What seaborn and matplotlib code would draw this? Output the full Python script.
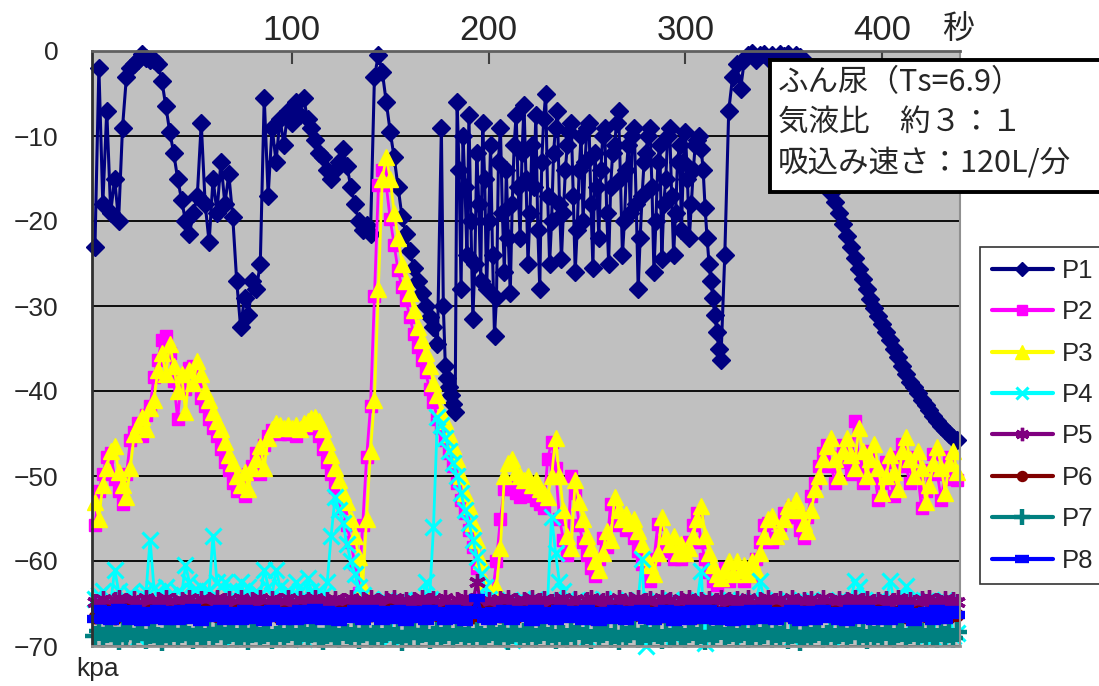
import numpy as np
import seaborn as sns
import matplotlib.pyplot as plt
import matplotlib.patches as mpatches

# time axis (s): one sample every 2 s; P1 is read every 1 s in its busy middle part
t = np.arange(0, 440, 2)
t_p1 = np.concatenate([np.arange(0, 176, 2), np.arange(176, 318, 1), np.arange(318, 440, 2)])

p1 = [-23, -2, -18, -7, -19, -15, -20, -9, -3, -2,
      -1.5, -1, -0.3, -0.8, -1, -1, -1.5, -3.5, -6.5, -9.5,
      -12, -15, -17.5, -20, -21.5, -19, -17, -8.5, -18, -22.5,
      -15, -19, -13, -18, -14.5, -19.5, -27, -32.5, -29, -31,
      -27, -28, -25, -5.5, -17, -9, -13, -8, -11, -7,
      -8.5, -6, -7.5, -5.5, -8, -9, -10.5, -12, -12.5, -14,
      -15, -14, -13, -11.5, -13.5, -16, -18, -20, -21, -20.5,
      -21.5, -3, -0.5, -2.5, -6, -9.5, -12.5, -16, -19.5, -21.5,
      -23.5, -25.5, -27, -28.5, -30, -31.3, -32.5, -34.5,
      # 176 .. 317 s, every second
      -9, -30, -37, -38.5, -39.5, -40.5, -41.5, -42.5, -6, -14,
      -28, -10, -16, -24, -7.5, -20, -31.5, -25, -12, -18,
      -27, -8.5, -15, -28, -20, -11, -24, -33.5, -29, -13,
      -9, -19, -26, -14, -22, -28.5, -18, -11, -7.5, -16,
      -22, -12, -6.3, -15, -25, -19, -11, -16, -7.5, -21,
      -28, -13, -8, -5, -17, -25, -20, -12, -9, -7,
      -18, -24.5, -19, -14, -11, -9.5, -8.5, -17, -26, -21,
      -14, -10, -20, -13, -9, -8.5, -18, -25.5, -12, -16,
      -22, -14, -10, -9, -19, -25, -16, -12, -11, -8.5,
      -7, -15, -24, -20, -14, -11, -19, -10, -9, -18,
      -28, -22, -17, -13, -12, -10, -9, -16, -26, -20,
      -13, -11, -24.5, -18, -15, -10, -9, -17, -24, -19,
      -13, -11, -21, -13, -9.5, -15, -22, -18, -14, -11,
      -10.5, -10, -11.5, -14, -18.5, -22, -25, -27, -29, -31,
      -33, -35,
      # 318 .. 438 s, every 2 s
      -36.4,
      -24, -7, -3, -1.5, -4.5, -1, -0.5, -0.2, -1, -0.5,
      -0.3, -0.8, -0.5, -1, -0.4, -0.6, -0.3, -0.8, -0.5, -0.7,
      -1, -1.5, -4, -7, -10, -12.5, -15, -16.7, -17.8, -19,
      -20.3, -21.8, -23, -24.3, -25.6, -26.8, -28, -29.2, -30.2, -31.2,
      -32.1, -33, -34, -35, -36, -37, -38, -38.9, -39.5, -40.2,
      -41, -41.7, -42.2, -42.9, -43.5, -44.1, -44.6, -45.1, -45.5, -45.8]

p2 = [-55.8, -51.8, -49.8, -47.8, -47.3, -50.3, -51.8, -53.3, -49.8, -45.8,
      -44.8, -43.8, -45.3, -42.8, -41.8, -38.3, -36.3, -34, -33.5, -35.5,
      -38.8, -43.3, -38.3, -39.8, -37.3, -37, -38.8, -40.8, -41.8, -43.3,
      -44.3, -45.3, -46.8, -48.3, -49.3, -50.8, -51.8, -50.3, -52.3, -49.8,
      -48.8, -47.3, -49.8, -46.3, -45.3, -44.6, -44.8, -45.1, -44.8, -45.1,
      -44.8, -45.3, -44.6, -44.3, -44, -43.8, -44.3, -45.3, -46.8, -48.3,
      -49.8, -51.3, -52.8, -53.8, -55.8, -57.8, -60.3, -63.8, -55.8, -47.8,
      -41.8, -28.8, -15.8, -14, -15.8, -19.8, -22.8, -25.8, -27.8, -29.3,
      -31.3, -33.3, -34.8, -36.3, -37.8, -39.8, -41.3, -43.3, -44.3, -45.8,
      -47.3, -48.8, -50.8, -52.8, -54.3, -56.3, -58.3, -60.8, -63.3, -64.8,
      -65.3, -63.8, -60, -55, -51.5, -51, -51.5, -52, -52.5, -52,
      -52.3, -51.8, -52.8, -53.3, -53.8, -48, -46, -49, -55, -57.5,
      -59.3, -50, -52, -55.8, -57.8, -59.3, -60.8, -61.8, -59.8, -57.3,
      -58.3, -53.3, -54.8, -55.8, -55.3, -56.3, -55.8, -57.3, -58.8, -60.3,
      -61.3, -62.3, -59.8, -55.6, -57.8, -58.8, -57.8, -59.8, -58.8, -59.8,
      -59.3, -57.8, -55.8, -54.3, -57.8, -59.8, -61.3, -62.3, -62.8, -61.8,
      -60.8, -62.3, -60.8, -61.8, -61.3, -62.3, -60.8, -61.8, -59.8, -57.8,
      -55.8, -55.5, -57.8, -57.3, -55.8, -54.3, -54.8, -53.6, -54.8, -56.3,
      -57.3, -54.8, -52.3, -50.8, -48.8, -47.3, -46.3, -48.8, -50.8, -47.8,
      -46.3, -48.3, -49.8, -43.5, -47.8, -50.8, -48.8, -47, -49.8, -52.8,
      -50.8, -48.3, -50.3, -52.3, -47.8, -46.2, -48.8, -50.8, -47.8, -49.8,
      -53.8, -51.8, -49.3, -47.4, -49.8, -52.8, -49.3, -47.8, -50.3, -50.5]

p3 = [-53, -55, -51, -49, -47, -46.5, -49.5, -51, -52.5, -49,
      -45, -44, -43, -44.5, -42, -41, -37.5, -35.5, -38, -34.5,
      -37, -40, -38, -42.5, -37.5, -39, -36.5, -38, -40, -41,
      -42.5, -43.5, -44.5, -46, -47.5, -48.5, -50, -51, -49.5, -51.5,
      -49, -48, -46.5, -49, -45.5, -44.5, -43.8, -44, -44.3, -44,
      -44.3, -44, -44.5, -43.8, -43.5, -43.2, -43, -43.5, -44.5, -46,
      -47.5, -49, -50.5, -52, -53, -55, -57, -59.5, -63, -55,
      -47, -41, -28, -15, -12.5, -15, -19, -22, -25, -27,
      -28.5, -30.5, -32.5, -34, -35.5, -37, -39, -40.5, -42.5, -43.5,
      -45, -46.5, -48, -50, -52, -53.5, -55.5, -57.5, -60, -62.5,
      -64, -64.5, -63, -58.5, -50, -48.5, -48, -49.5, -50, -50.5,
      -50, -51, -50.5, -51.5, -52, -52.5, -50, -45.5, -50, -54,
      -57, -58.5, -50.5, -53, -55, -57, -58.5, -60, -61, -59,
      -56.5, -57.5, -52.5, -54, -55, -54.5, -55.5, -55, -56.5, -58,
      -59.5, -60.5, -61.5, -59, -54.8, -57, -58, -57, -59, -58,
      -59, -58.5, -57, -55, -53.5, -57, -59, -60.5, -61.5, -62,
      -61, -60, -61.5, -60, -61, -60.5, -61.5, -60, -61, -59,
      -57, -55, -54.7, -57, -56.5, -55, -53.5, -54, -52.8, -54,
      -55.5, -56.5, -54, -51.5, -50, -48, -46.5, -45.5, -48, -50,
      -47, -45.5, -47.5, -49, -44.3, -47, -50, -48, -46.2, -49,
      -52, -50, -47.5, -49.5, -51.5, -47, -45.4, -48, -50, -47,
      -49, -53, -51, -48.5, -46.6, -49, -52, -48.5, -47, -49.5]

p4 = [-64.5, -64.0, -63.5, -64.5, -65.0, -61.0, -63.5, -64.5, -65.0, -63.8,
      -64.5, -69.0, -64.0, -63.5, -57.5, -63.2, -63.5, -64.5, -63.0, -64.0,
      -65.0, -63.5, -64.0, -60.5, -62.5, -63.5, -64.0, -63.0, -64.5, -63.5,
      -57.0, -62.5, -63.0, -62.5, -63.5, -69.0, -63.5, -62.5, -64.0, -63.0,
      -64.5, -63.5, -64.0, -61.0, -63.0, -64.0, -61.0, -63.0, -64.5, -63.5,
      -64.0, -62.5, -63.5, -69.2, -62.0, -63.5, -64.5, -63.5, -64.0, -62.5,
      -57.0, -52.5, -54.0, -55.5, -58.0, -60.0, -61.5, -63.0, -64.0, -65.0,
      -64.5, -65.0, -64.8, -65.2, -64.6, -69.0, -64.9, -65.1, -64.7, -65.0,
      -64.8, -65.2, -64.6, -64.9, -62.5, -64.5, -56.0, -43.0, -44.0, -45.5,
      -47.0, -48.5, -50.0, -52.0, -54.0, -55.5, -57.5, -59.5, -61.5, -63.0,
      -64.5, -65.0, -64.6, -64.9, -65.2, -64.7, -69.3, -64.8, -65.0, -64.6,
      -64.9, -65.1, -64.5, -64.8, -65.0, -64.6, -54.8, -59.0, -62.5, -63.5,
      -64.5, -65.0, -64.7, -64.9, -65.1, -69.0, -64.6, -64.8, -65.0, -64.5,
      -64.9, -65.2, -64.6, -64.8, -65.0, -64.7, -64.9, -65.1, -64.6, -59.8,
      -70.0, -64.8, -65.0, -64.6, -64.9, -65.1, -64.7, -68.8, -64.8, -65.0,
      -64.6, -64.9, -65.0, -64.7, -61.2, -69.7, -64.8, -65.1, -64.6, -64.9,
      -65.0, -64.7, -64.9, -65.1, -64.6, -68.9, -64.8, -65.0, -64.7, -62.4,
      -64.6, -64.9, -65.1, -64.7, -64.8, -65.0, -64.6, -69.1, -64.9, -64.7,
      -65.0, -64.8, -64.6, -64.9, -65.1, -64.7, -64.8, -69.0, -65.0, -64.6,
      -64.9, -64.7, -64.8, -62.3, -63.0, -64.9, -65.1, -64.7, -64.8, -64.6,
      -65.0, -64.8, -62.3, -64.7, -64.9, -65.1, -62.9, -64.6, -68.7, -64.8,
      -65.0, -64.7, -64.9, -69.0, -64.8, -65.1, -64.6, -64.9, -68.8, -68.5]

p5 = [-64.8, -65.2, -64.5, -64.9, -65.3, -64.6, -64.4, -65.0, -64.7, -65.2,
      -64.5, -64.9, -65.1, -64.3, -64.8, -65.2, -64.6, -64.9, -64.4, -65.0,
      -64.7, -65.3, -64.6, -64.9, -64.3, -65.0, -64.8, -64.5, -65.2, -64.6,
      -64.9, -64.4, -65.1, -64.7, -64.5, -65.2, -64.8, -64.3, -64.9, -65.0,
      -64.6, -65.1, -64.4, -64.8, -65.3, -64.5, -64.9, -64.7, -65.0, -64.4,
      -64.8, -65.2, -64.5, -64.9, -64.6, -65.1, -64.3, -64.8, -65.0, -64.6,
      -65.1, -64.5, -64.9, -64.7, -65.2, -64.4, -64.8, -65.0, -64.6, -64.9,
      -64.4, -65.0, -64.7, -65.2, -64.5, -64.9, -64.3, -65.1, -64.8, -64.6,
      -65.0, -64.6, -64.9, -64.4, -65.2, -64.7, -64.5, -65.0, -64.8, -64.3,
      -64.9, -65.1, -64.6, -64.8, -64.4, -65.0, -64.7, -62.5, -64.9, -65.2,
      -64.6, -64.9, -65.1, -64.5, -64.8, -64.3, -65.0, -64.7, -65.2, -64.6,
      -64.9, -64.4, -65.0, -64.7, -64.5, -65.2, -64.8, -64.6, -65.1, -64.4,
      -64.8, -65.0, -64.5, -64.9, -65.3, -64.6, -64.4, -64.8, -65.1, -64.7,
      -64.5, -64.9, -65.2, -64.4, -64.8, -65.0, -64.6, -64.9, -64.3, -65.1,
      -64.7, -64.5, -65.0, -64.8, -64.4, -65.2, -64.6, -64.9, -65.0, -64.5,
      -64.9, -64.3, -64.8, -65.1, -64.6, -64.9, -64.5, -65.2, -64.7, -64.4,
      -65.0, -64.6, -64.9, -64.5, -65.1, -64.8, -64.4, -64.9, -65.2, -64.6,
      -64.8, -64.4, -65.0, -64.7, -64.5, -65.1, -64.9, -64.3, -64.8, -65.0,
      -64.6, -64.9, -64.5, -65.2, -64.8, -64.4, -65.0, -64.7, -64.9, -64.5,
      -65.1, -64.6, -64.8, -64.4, -65.0, -64.7, -64.5, -65.2, -64.8, -64.6,
      -64.9, -64.5, -65.0, -64.7, -64.4, -65.1, -64.8, -64.6, -64.9, -65.2,
      -64.5, -64.8, -64.4, -65.0, -64.7, -64.9, -64.5, -65.1, -64.6, -64.8]

p6 = [-66.6, -66.0, -66.4, -65.9, -66.3, -66.7, -66.1, -66.5, -65.8, -66.2,
      -66.4, -66.0, -66.6, -66.2, -65.9, -66.5, -66.1, -66.3, -66.7, -66.0,
      -66.3, -65.9, -66.5, -66.1, -66.4, -66.0, -66.6, -66.2, -65.8, -66.4,
      -66.1, -66.5, -66.0, -66.3, -66.7, -66.2, -65.9, -66.4, -66.1, -66.6,
      -66.0, -66.4, -66.2, -65.9, -66.5, -66.1, -66.3, -66.7, -66.0, -66.2,
      -66.5, -66.1, -65.9, -66.4, -66.2, -66.6, -66.0, -66.3, -66.1, -66.5,
      -66.2, -66.6, -66.0, -66.3, -65.9, -66.4, -66.2, -66.5, -66.0, -66.3,
      -66.4, -66.0, -66.5, -66.1, -66.3, -65.8, -66.4, -66.2, -66.6, -66.1,
      -66.3, -66.5, -66.0, -66.2, -66.6, -66.1, -65.9, -66.4, -66.2, -66.0,
      -66.5, -66.1, -66.3, -66.0, -66.4, -66.2, -66.6, -65.6, -66.3, -66.1,
      -66.0, -66.4, -66.2, -66.5, -65.9, -66.3, -66.1, -66.6, -66.2, -66.0,
      -66.3, -66.1, -66.5, -66.0, -66.4, -66.2, -65.9, -66.3, -66.6, -66.1,
      -66.2, -66.5, -66.0, -66.3, -66.1, -66.4, -66.7, -66.0, -66.2, -66.5,
      -66.1, -66.3, -65.9, -66.4, -66.2, -66.0, -66.5, -66.3, -66.1, -66.4,
      -66.6, -66.0, -66.3, -66.2, -66.5, -65.9, -66.4, -66.1, -66.3, -66.0,
      -66.2, -66.4, -66.1, -66.6, -66.0, -66.3, -66.2, -65.9, -66.5, -66.1,
      -66.3, -66.0, -66.4, -66.2, -66.6, -66.1, -66.3, -66.0, -66.4, -66.2,
      -66.5, -66.1, -66.2, -65.9, -66.4, -66.3, -66.0, -66.6, -66.2, -66.1,
      -66.0, -66.4, -66.3, -66.1, -66.5, -66.2, -65.9, -66.4, -66.0, -66.3,
      -66.2, -66.6, -66.1, -66.3, -66.0, -66.5, -66.2, -66.4, -66.1, -65.9,
      -66.4, -66.1, -66.3, -66.5, -66.0, -66.2, -66.6, -66.1, -66.3, -66.0,
      -66.3, -66.5, -66.1, -66.2, -66.4, -66.0, -66.3, -66.6, -66.2, -66.4]

p7 = [-68.8, -68.2, -69.0, -68.5, -68.0, -68.9, -69.3, -68.4, -68.7, -68.1,
      -69.0, -68.5, -68.2, -69.2, -68.6, -68.3, -68.9, -69.4, -68.1, -68.7,
      -68.4, -69.0, -68.5, -68.1, -68.8, -69.2, -68.3, -68.7, -69.1, -68.2,
      -68.9, -68.5, -68.0, -69.1, -68.6, -68.4, -69.0, -68.7, -68.2, -69.3,
      -68.5, -68.1, -68.9, -68.6, -68.3, -69.2, -68.8, -68.4, -69.0, -68.5,
      -68.2, -69.1, -68.7, -68.4, -68.9, -68.5, -68.1, -69.0, -69.3, -68.6,
      -68.3, -68.8, -69.1, -68.2, -68.6, -68.9, -68.4, -69.2, -68.5, -68.1,
      -69.0, -68.7, -68.3, -69.1, -68.5, -68.2, -68.9, -68.6, -69.4, -68.4,
      -68.7, -68.1, -69.0, -68.5, -68.3, -69.2, -68.8, -68.4, -68.9, -68.6,
      -68.2, -69.1, -68.6, -68.4, -68.9, -68.5, -69.1, -68.3, -68.8, -69.0,
      -68.5, -68.2, -68.9, -68.7, -68.4, -69.3, -68.6, -68.1, -69.0, -68.5,
      -68.8, -68.3, -69.1, -68.6, -68.2, -68.9, -68.5, -69.2, -68.4, -68.7,
      -69.0, -68.4, -68.7, -68.1, -68.9, -68.6, -69.2, -68.3, -68.8, -68.5,
      -68.2, -69.0, -68.6, -69.3, -68.4, -68.8, -68.5, -68.1, -69.1, -68.7,
      -68.5, -68.9, -68.3, -68.6, -69.2, -68.4, -69.0, -68.7, -68.2, -68.8,
      -69.1, -68.5, -68.2, -68.9, -68.6, -69.3, -68.4, -68.8, -68.5, -68.1,
      -68.9, -68.6, -68.3, -69.0, -68.5, -68.2, -69.1, -68.7, -68.4, -68.9,
      -68.6, -68.1, -69.0, -68.5, -68.8, -68.3, -69.2, -68.6, -68.4, -69.4,
      -68.7, -68.4, -68.9, -68.5, -68.2, -69.1, -68.7, -68.3, -69.0, -68.6,
      -68.3, -69.0, -68.6, -68.1, -68.9, -68.5, -69.2, -68.4, -68.8, -68.5,
      -68.9, -68.2, -68.7, -69.1, -68.5, -68.3, -69.0, -68.6, -68.4, -68.8,
      -68.5, -69.1, -68.3, -68.7, -69.0, -68.4, -68.8, -68.5, -69.1, -68.4]

p8 = [-66.8, -65.6, -66.9, -65.8, -67.0, -66.1, -65.5, -66.7, -66.0, -67.1,
      -65.7, -66.5, -67.2, -65.9, -66.3, -66.9, -65.6, -66.6, -67.0, -65.8,
      -66.4, -67.1, -65.7, -66.2, -66.9, -65.5, -66.6, -67.2, -66.0, -65.8,
      -66.7, -66.1, -65.6, -67.0, -66.4, -65.9, -66.8, -67.1, -65.7, -66.3,
      -66.9, -65.8, -66.5, -67.2, -66.0, -65.6, -66.7, -66.2, -67.0, -65.9,
      -66.4, -67.1, -65.7, -66.6, -66.0, -66.9, -65.5, -66.3, -67.0, -65.8,
      -66.6, -66.1, -67.2, -65.9, -66.4, -66.8, -65.6, -66.5, -67.1, -66.0,
      -65.7, -66.7, -66.2, -67.0, -65.8, -66.5, -66.9, -65.6, -66.3, -67.2,
      -66.0, -65.8, -66.8, -66.4, -67.1, -65.7, -66.6, -66.1, -65.9, -67.0,
      -66.5, -65.6, -66.9, -66.2, -67.2, -65.8, -66.4, -64.4, -66.0, -66.8,
      -67.1, -65.9, -66.3, -66.8, -65.6, -66.6, -67.0, -66.1, -65.8, -66.7,
      -66.2, -67.2, -65.7, -66.5, -66.9, -65.9, -66.4, -67.1, -65.6, -66.3,
      -66.8, -66.0, -65.8, -66.7, -67.0, -65.7, -66.5, -66.2, -67.2, -65.9,
      -66.4, -66.9, -65.6, -66.1, -66.8, -67.1, -65.8, -66.6, -66.0, -65.7,
      -66.9, -66.3, -67.0, -65.9, -66.5, -65.6, -66.8, -67.2, -66.1, -65.8,
      -66.6, -67.1, -65.7, -66.3, -66.9, -66.0, -65.6, -66.7, -67.0, -65.9,
      -66.2, -66.8, -67.2, -65.8, -66.5, -66.1, -67.0, -65.7, -66.4, -66.9,
      -65.6, -66.6, -66.0, -67.1, -65.9, -66.7, -66.3, -65.7, -66.9, -67.2,
      -66.1, -65.8, -66.6, -67.0, -66.4, -65.6, -66.8, -66.2, -65.9, -67.1,
      -66.5, -67.2, -65.7, -66.3, -66.9, -66.0, -65.6, -66.7, -67.0, -66.2,
      -65.8, -66.6, -67.1, -65.9, -66.4, -66.8, -65.7, -66.5, -67.2, -66.0,
      -66.7, -65.9, -66.3, -67.0, -65.6, -66.6, -66.9, -66.1, -65.8, -66.4]

names = ['P1', 'P2', 'P3', 'P4', 'P5', 'P6', 'P7', 'P8']
series = [p1, p2, p3, p4, p5, p6, p7, p8]
times = [t_p1, t, t, t, t, t, t, t]

# Excel-like colours and markers
colors = ['#000080', '#FF00FF', '#FFFF00', '#00FFFF', '#800080', '#800000', '#008080', '#0000FF']
markers = ['D', 's', '^', 'x', (6, 2, 0), 'o', '+', '_']
msizes = [9.5, 9, 12, 11, 12, 9, 14, 12]
mews = [1, 1, 1, 2.2, 2.4, 1, 3.2, 6]
lws = [2.2, 2, 2, 2, 2.2, 2, 2.6, 3]

sns.set_style('white')
plt.rcParams['font.family'] = ['Liberation Sans', 'Noto Sans CJK JP']

fig = plt.figure(figsize=(10.99, 6.86), dpi=100)
W, H = 1099, 686
ax = fig.add_axes([92 / W, 1 - 646 / H, (960 - 92) / W, (646 - 51) / H])
ax.set_facecolor('#C0C0C0')

for name, tx, vals, c, m, ms, mw, lw in zip(names, times, series, colors, markers, msizes, mews, lws):
    sns.lineplot(x=tx, y=vals, ax=ax, color=c, marker=m, markersize=ms,
                 markeredgecolor=c, markerfacecolor=c, markeredgewidth=mw,
                 linewidth=lw, label=name, estimator=None, errorbar=None,
                 clip_on=False)

handles, labels = ax.get_legend_handles_labels()
if ax.get_legend() is not None:
    ax.get_legend().remove()

ax.set_xlim(-1.5, 439.5)
ax.set_ylim(-70, 0)
ax.set_xlabel('')
ax.set_ylabel('')

# x axis on top, ticks inside
ax.xaxis.tick_top()
ax.set_xticks([100, 200, 300, 400])
ax.tick_params(axis='x', direction='in', length=9, width=1.5, color='#404040',
               labelsize=25, pad=3)
ax.set_yticks(range(-70, 1, 10))
ax.tick_params(axis='y', length=0, labelsize=19, pad=24)

ax.yaxis.grid(True, color='black', linewidth=1.3)
ax.xaxis.grid(False)
ax.set_axisbelow(True)

ax.spines['top'].set_color('#606060')
ax.spines['top'].set_linewidth(2)
ax.spines['left'].set_color('#303030')
ax.spines['left'].set_linewidth(2)
ax.spines['right'].set_color('#909090')
ax.spines['right'].set_linewidth(1.5)
ax.spines['bottom'].set_color('#909090')
ax.spines['bottom'].set_linewidth(2)

leg = fig.legend(handles, labels, loc='upper left', bbox_to_anchor=(980 / W, 1 - 247 / H),
                 frameon=True, fancybox=False, edgecolor='black', fontsize=18.5,
                 handlelength=2.4, handletextpad=0.35, labelspacing=0.68,
                 borderpad=0.45, borderaxespad=0, markerscale=0.8)
leg.get_frame().set_linewidth(1.2)
for ln in leg.get_lines():
    ln.set_linewidth(3)

# annotation box (its right edge runs off the figure)
box = mpatches.Rectangle((770 / W, 1 - 191.5 / H), 340 / W, 132 / H,
                         transform=fig.transFigure, facecolor='white',
                         edgecolor='black', linewidth=2.8, zorder=5)
fig.patches.append(box)
cjk = ['Noto Sans CJK JP', 'DejaVu Sans']
for txt, yc in [('ふん尿（Ts=6.9）', 83), ('気液比　約３：１', 122), ('吸込み速さ：120L/分', 163)]:
    fig.text(778 / W, 1 - yc / H, txt, fontsize=22, family=cjk, va='center', ha='left', zorder=6)

fig.text(958 / W, 1 - 30 / H, '秒', fontsize=23, family=cjk, ha='center', va='center')
fig.text(76 / W, 1 - 676 / H, 'kpa', fontsize=19, ha='left', va='baseline')

fig.savefig('out.png', dpi=100)
